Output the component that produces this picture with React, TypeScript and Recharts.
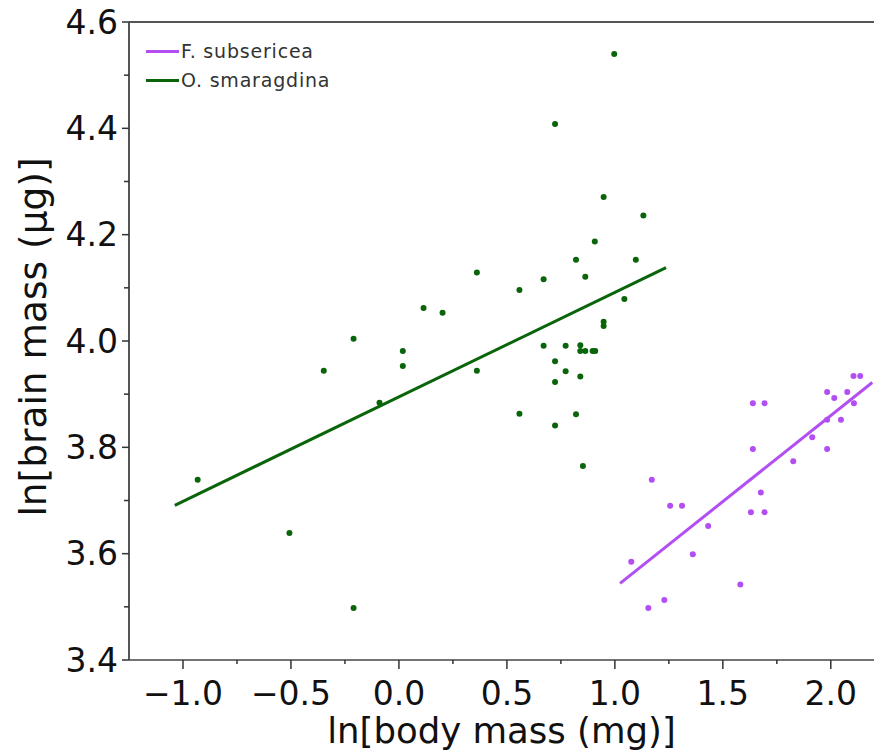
import React from 'react';
import { ScatterChart, Scatter, XAxis, YAxis, ReferenceLine } from 'recharts';

const seriesNames = ['F. subsericea', 'O. smaragdina'];
const seriesColors = ['#b34ff2', '#0a650a'];

// F. subsericea (purple)
const subsericeaBody = [2.105, 2.136, 1.983, 2.016, 2.076, 1.639, 1.693, 2.107, 1.983, 2.047, 1.914, 1.983, 1.639, 1.826, 1.171, 1.676, 1.256, 1.311, 1.63, 1.693, 1.432, 1.076, 1.361, 1.581, 1.229, 1.155];
const subsericeaBrain = [3.934, 3.934, 3.904, 3.893, 3.904, 3.883, 3.883, 3.883, 3.852, 3.852, 3.819, 3.797, 3.797, 3.774, 3.739, 3.715, 3.69, 3.69, 3.678, 3.678, 3.652, 3.585, 3.599, 3.542, 3.513, 3.498];

// O. smaragdina (green)
const smaragdinaBody = [-0.932, -0.507, -0.21, -0.348, -0.21, -0.09, 0.018, 0.018, 0.114, 0.202, 0.361, 0.361, 0.558, 0.558, 0.997, 0.723, 0.948, 1.132, 0.907, 0.82, 1.097, 0.67, 0.863, 1.044, 0.948, 0.948, 0.67, 0.772, 0.84, 0.84, 0.863, 0.897, 0.909, 0.723, 0.772, 0.723, 0.84, 0.82, 0.723, 0.852];
const smaragdinaBrain = [3.739, 3.639, 3.498, 3.944, 4.004, 3.884, 3.981, 3.953, 4.062, 4.053, 4.129, 3.944, 4.096, 3.863, 4.54, 4.408, 4.271, 4.236, 4.187, 4.153, 4.153, 4.116, 4.121, 4.079, 4.036, 4.028, 3.991, 3.991, 3.992, 3.981, 3.981, 3.981, 3.981, 3.962, 3.943, 3.923, 3.933, 3.862, 3.841, 3.765];

// fitted lines (end points)
const subsericeaFitX = [1.024, 2.192];
const subsericeaFitY = [3.544, 3.922];
const smaragdinaFitX = [-1.038, 1.237];
const smaragdinaFitY = [3.691, 4.138];

const xTicks = [-1.0, -0.75, -0.5, -0.25, 0, 0.25, 0.5, 0.75, 1.0, 1.25, 1.5, 1.75, 2.0];
const yTicks = [3.4, 3.5, 3.6, 3.7, 3.8, 3.9, 4.0, 4.1, 4.2, 4.3, 4.4, 4.5, 4.6];

const FONT = '"DejaVu Sans", Verdana, sans-serif';

const toPoints = (xs: number[], ys: number[]) => xs.map((x, i) => ({ x, y: ys[i] }));

const fmt = (v: number) => {
  const s = Math.abs(v).toFixed(1);
  return v < -1e-9 ? '\u2212' + s : s;
};

const isMult = (v: number, step: number) => Math.abs(v / step - Math.round(v / step)) < 1e-6;

const XTick = (props: any) => {
  const { x, y, payload } = props;
  const major = isMult(payload.value, 0.5);
  return (
    <g>
      <line x1={x} x2={x} y1={y} y2={y + (major ? 9 : 4)} stroke="#333" strokeWidth={1.5} />
      {major && (
        <text x={x} y={y + 45} textAnchor="middle" fontSize={33} fontFamily={FONT} fill="#111">
          {fmt(payload.value)}
        </text>
      )}
    </g>
  );
};

const YTick = (props: any) => {
  const { x, y, payload } = props;
  const major = isMult(payload.value, 0.2);
  return (
    <g>
      <line x1={x} x2={x - (major ? 7 : 5)} y1={y} y2={y} stroke="#333" strokeWidth={1.5} />
      {major && (
        <text x={x - 11} y={y} textAnchor="end" dominantBaseline="central" fontSize={33} fontFamily={FONT} fill="#111">
          {fmt(payload.value)}
        </text>
      )}
    </g>
  );
};

const XTitle = (props: any) => {
  const { viewBox } = props;
  const cx = viewBox.x + viewBox.width / 2;
  return (
    <text x={cx} y={viewBox.y + 70} textAnchor="middle" dominantBaseline="central" fontSize={35.5} fontFamily={FONT} fill="#111">
      ln[body mass (mg)]
    </text>
  );
};

const YTitle = (props: any) => {
  const { viewBox } = props;
  const cx = 33;
  const cy = viewBox.y + viewBox.height / 2 - 4;
  return (
    <text x={cx} y={cy} transform={`rotate(-90 ${cx} ${cy})`} textAnchor="middle" dominantBaseline="central" fontSize={37.5} fontFamily={FONT} fill="#111">
      ln[brain mass (μg)]
    </text>
  );
};

const Dot = (color: string) => (props: any) => <circle cx={props.cx} cy={props.cy} r={3} fill={color} />;
const NoDot = () => <g />;

export default function App() {
  return (
    <div style={{ position: 'absolute', top: 0, left: 0, width: 874, height: 756, background: '#fff' }}>
      <ScatterChart width={874} height={756} margin={{ top: 22, right: 0, bottom: 0, left: 0 }}>
        <XAxis
          type="number"
          dataKey="x"
          domain={[-1.25, 2.2]}
          allowDataOverflow
          ticks={xTicks}
          interval={0}
          tick={<XTick />}
          tickLine={false}
          tickSize={0}
          tickMargin={0}
          height={96}
          axisLine={{ stroke: '#444', strokeWidth: 1.5 }}
          label={<XTitle />}
        />
        <YAxis
          type="number"
          dataKey="y"
          domain={[3.4, 4.6]}
          allowDataOverflow
          ticks={yTicks}
          interval={0}
          tick={<YTick />}
          tickLine={false}
          tickSize={0}
          tickMargin={0}
          width={129}
          axisLine={{ stroke: '#555', strokeWidth: 2 }}
          label={<YTitle />}
        />
        <ReferenceLine y={4.6} stroke="#555" strokeWidth={2} />
        <Scatter
          data={toPoints(smaragdinaFitX, smaragdinaFitY)}
          fill={seriesColors[1]}
          line={{ stroke: seriesColors[1], strokeWidth: 3 }}
          shape={NoDot}
          isAnimationActive={false}
        />
        <Scatter
          data={toPoints(subsericeaFitX, subsericeaFitY)}
          fill={seriesColors[0]}
          line={{ stroke: seriesColors[0], strokeWidth: 3 }}
          shape={NoDot}
          isAnimationActive={false}
        />
        <Scatter data={toPoints(smaragdinaBody, smaragdinaBrain)} fill={seriesColors[1]} shape={Dot(seriesColors[1])} isAnimationActive={false} />
        <Scatter data={toPoints(subsericeaBody, subsericeaBrain)} fill={seriesColors[0]} shape={Dot(seriesColors[0])} isAnimationActive={false} />
      </ScatterChart>
      {/* legend, top left inside the plot */}
      <div style={{ position: 'absolute', left: 146, top: 37, fontFamily: FONT, fontSize: 19, letterSpacing: 0.8, color: '#333', lineHeight: '29px' }}>
        {seriesNames.map((name, i) => (
          <div key={name} style={{ display: 'flex', alignItems: 'center' }}>
            <span style={{ display: 'inline-block', width: 33, height: 3, background: seriesColors[i], marginRight: 2 }} />
            <span>{name}</span>
          </div>
        ))}
      </div>
    </div>
  );
}
